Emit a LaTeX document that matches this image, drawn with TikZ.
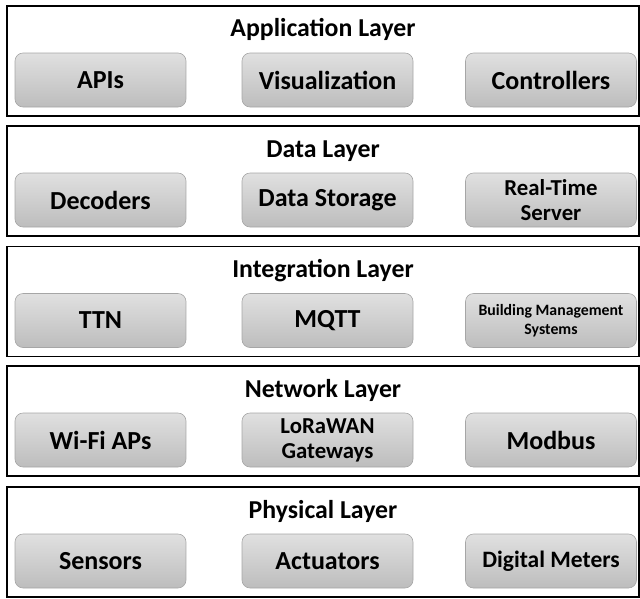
\documentclass[tikz,border=0pt]{standalone}
\usepackage{fontspec}
\setmainfont{Carlito}
\usepackage{tikz}
\usetikzlibrary{positioning}

\begin{document}
\begin{tikzpicture}[x=1pt, y=-1pt,
        layer/.style={draw=black, line width=1.6pt, minimum width=632pt,
                      minimum height=110pt, inner sep=0pt},
        title/.style={anchor=base, font=\fontsize{25.8}{29}\selectfont\bfseries},
        unit/.style={draw=black!35, line width=0.6pt, rounded corners=8pt,
                     top color=black!12, bottom color=black!26, align=center,
                     minimum width=171pt, minimum height=54pt, inner sep=1pt,
                     font=\fontsize{26}{30}\selectfont\bfseries},
        small/.style={font=\fontsize{22.8}{25}\selectfont\bfseries},
        tiny/.style={font=\fontsize{15.8}{19}\selectfont\bfseries},
    ]
    \useasboundingbox (0,0) rectangle (640,598);
    % application layer
    \node[layer] (app) at (323, 61) {};
    \node[title] (appT) at (323, 36) {Application Layer};
    \node[unit] (apis) at (100.5, 80) {APIs};
    \node[unit] (visual) at (327.5, 80) {Visualization};
    \node[unit] (ctrl) at (551, 80) {Controllers};
    % data layer
    \node[layer] (data) at (323, 181) {};
    \node[title] (dataT) at (323, 157) {Data Layer};
    \node[unit] (decod) at (100.5, 200) {Decoders};
    \node[unit] (store) at (327.5, 200) {Data Storage};
    \node[unit, small] (rts) at (551, 200) {Real-Time\\Server};
    % integration layer
    \node[layer] (integ) at (323, 301.5) {};
    \node[title] (integT) at (323, 277.5) {Integration Layer};
    \node[unit] (ttn) at (100.5, 320.5) {TTN};
    \node[unit] (mqtt) at (327.5, 320.5) {MQTT};
    \node[unit, tiny] (bms) at (551, 320.5) {Building Management\\Systems};
    % network layer
    \node[layer] (net) at (323, 421) {};
    \node[title] (netT) at (323, 397) {Network Layer};
    \node[unit] (wifi) at (100.5, 440) {Wi-Fi APs};
    \node[unit, small] (lora) at (327.5, 440) {LoRaWAN\\Gateways};
    \node[unit] (modbus) at (551, 440) {Modbus};
    % physical layer
    \node[layer] (phys) at (323, 542) {};
    \node[title] (physT) at (323, 518) {Physical Layer};
    \node[unit] (sens) at (100.5, 561) {Sensors};
    \node[unit] (act) at (327.5, 561) {Actuators};
    \node[unit, font=\fontsize{23.5}{28}\selectfont\bfseries] (meter) at (551, 561) {Digital Meters};
\end{tikzpicture}
\end{document}
